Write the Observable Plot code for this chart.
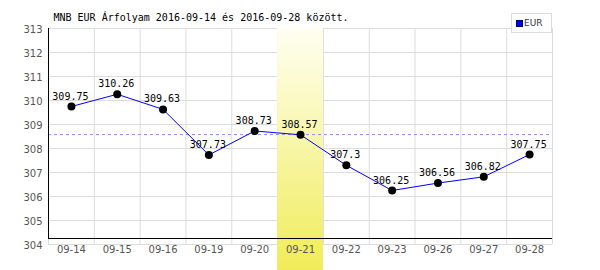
<!DOCTYPE html>
<html><head><meta charset="utf-8">
<script src="https://cdn.jsdelivr.net/npm/d3@7"></script>
<script src="https://cdn.jsdelivr.net/npm/@observablehq/plot@0.6"></script>
<style>
body{margin:0;background:#fff}
#wrap{position:relative;width:600px;height:270px}
#legend{position:absolute;left:511px;top:13px;width:39px;height:18px;border:1px solid #ddd;background:#fff;font:9px "DejaVu Sans",sans-serif;color:#333;box-sizing:content-box}
#legend .sw{position:absolute;left:4px;top:6px;width:5px;height:5px;background:#0000ff;border:1px solid #000066}
#legend .lb{position:absolute;left:12px;top:4px;line-height:10px}
</style>
</head><body><div id="wrap"></div>
<script>
const days = ["09-14","09-15","09-16","09-19","09-20","09-21","09-22","09-23","09-26","09-27","09-28"];
const rates = [309.75,310.26,309.63,307.73,308.73,308.57,307.3,306.25,306.56,306.82,307.75];
const average = [308.58];
const highlightDays = ["09-21"];
const yTicks = [304,305,306,307,308,309,310,311,312,313];
const title = "MNB EUR Árfolyam 2016-09-14 és 2016-09-28 között.";
const seriesName = "EUR";

const idx = days.map((d, i) => i);
const bounds = d3.range(days.length + 1).map(i => i - 0.5);
const hl = highlightDays.map(d => days.indexOf(d));

const svg = Plot.plot({
  width: 600, height: 270,
  marginLeft: 48, marginRight: 48, marginTop: 28, marginBottom: 26,
  style: {fontFamily: "DejaVu Sans", fontSize: "10px", background: "#fff"},
  x: {domain: [-0.5, days.length - 0.5]},
  y: {domain: [yTicks[0], yTicks[yTicks.length - 1]]},
  marks: [
    Plot.ruleY(yTicks, {stroke: "#dddddd"}),
    Plot.ruleX(bounds, {stroke: "#dddddd"}),
    Plot.rect(hl, {x1: i => i - 0.5, x2: i => i + 0.5, insetBottom: -26, fill: "url(#hlgrad)"}),
    Plot.ruleY(average, {stroke: "#8c8cff", strokeDasharray: "3,3"}),
    Plot.ruleY([yTicks[0]], {stroke: "black", dy: -6}),
    Plot.ruleX([-0.5], {stroke: "black", insetBottom: 6}),
    Plot.axisX(idx, {tickSize: 0, tickPadding: 1, tickFormat: i => days[i], fill: "#555", label: null}),
    Plot.axisY(yTicks, {tickSize: 0, tickPadding: 6, dy: 1, fill: "#555", label: null}),
    Plot.line(idx, {x: i => i, y: i => rates[i], stroke: "#0000ff", strokeWidth: 1}),
    Plot.dot(idx, {x: i => i, y: i => rates[i], r: 4, fill: "black"}),
    Plot.text(idx, {x: i => i, y: i => rates[i], text: i => String(rates[i]), dx: -1, dy: -7, lineAnchor: "bottom", fontFamily: "DejaVu Sans Mono", fontSize: 10, fill: "black"}),
    Plot.text([title], {frameAnchor: "top-left", text: d => d, dx: 5, dy: -7.5, lineAnchor: "bottom", textAnchor: "start", fontFamily: "DejaVu Sans Mono", fontSize: 10, fill: "black"})
  ]
});

d3.select(svg).insert("defs", ":first-child").html(
  '<linearGradient id="hlgrad" x1="0" y1="0" x2="0" y2="1">' +
  '<stop offset="0" stop-color="#fffff2"/><stop offset="1" stop-color="#f0ec58"/></linearGradient>');

const wrap = document.getElementById("wrap");
wrap.appendChild(svg);
const lg = document.createElement("div");
lg.id = "legend";
lg.innerHTML = '<div class="sw"></div><div class="lb"></div>';
lg.querySelector(".lb").textContent = seriesName;
wrap.appendChild(lg);
</script>
</body></html>
